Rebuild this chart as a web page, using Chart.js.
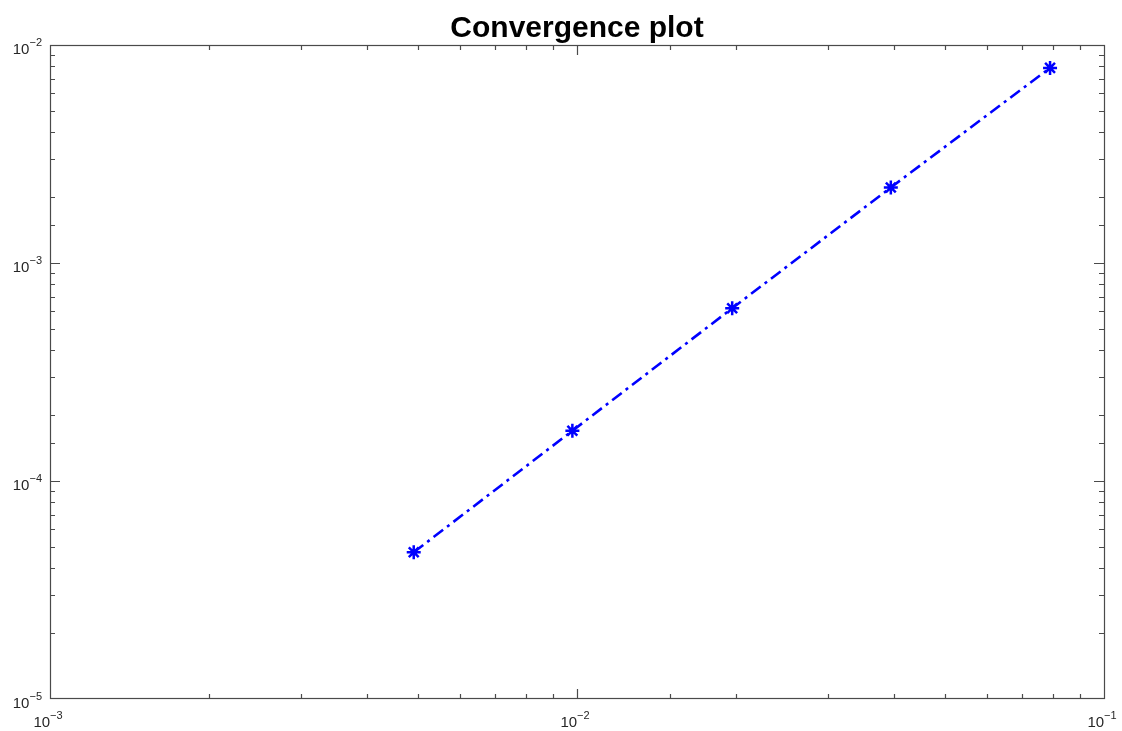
<!DOCTYPE html>
<html>
<head>
<meta charset="utf-8">
<script src="https://cdn.jsdelivr.net/npm/chart.js@4"></script>
<style>
  html, body { margin: 0; padding: 0; background: #ffffff; }
  #wrap { width: 1122px; height: 731px; }
</style>
</head>
<body>
<div id="wrap"><canvas id="c" width="1122" height="731"></canvas></div>
<script>
// ---- data ----
const stepSizes = [0.0049, 0.0098, 0.0197, 0.0394, 0.079];
const errors    = [4.71e-5, 1.70e-4, 6.20e-4, 2.22e-3, 7.85e-3];
const xRange    = [1e-3, 1e-1];
const yRange    = [1e-5, 1e-2];
const titleText = 'Convergence plot';

function isDecade(v) {
  const l = Math.log10(v);
  return Math.abs(l - Math.round(l)) < 1e-9;
}
function exponentText(v) {
  return String(Math.round(Math.log10(v))).replace('-', '\u2212');
}

const AXIS_COLOR = '#4a4a4a';
const TEXT_COLOR = '#262626';
const FONT_FAMILY = '"Liberation Sans", Arial, Helvetica, sans-serif';
const BASE_FONT = '15px ' + FONT_FAMILY;
const EXP_FONT = '11px ' + FONT_FAMILY;

function drawPowerLabel(ctx, base, exp, xLeft, baseY, expY) {
  ctx.font = BASE_FONT;
  ctx.fillText(base, xLeft, baseY);
  const w = ctx.measureText(base).width;
  ctx.font = EXP_FONT;
  ctx.fillText(exp, xLeft + w, expY);
}
function powerLabelWidth(ctx, base, exp) {
  ctx.font = BASE_FONT;
  const w1 = ctx.measureText(base).width;
  ctx.font = EXP_FONT;
  return w1 + ctx.measureText(exp).width;
}

const boxTicks = {
  id: 'boxTicks',
  beforeDatasetsDraw(chart) {
    const { ctx, chartArea: a, scales: { x, y } } = chart;
    ctx.save();
    ctx.strokeStyle = AXIS_COLOR;
    ctx.lineWidth = 1.2;
    ctx.beginPath();
    for (const t of x.ticks) {
      const px = Math.round(x.getPixelForValue(t.value)) + 0.5;
      if (px < a.left + 1 || px > a.right - 1) continue;
      const len = isDecade(t.value) ? 10 : 5;
      ctx.moveTo(px, a.bottom); ctx.lineTo(px, a.bottom - len);
      ctx.moveTo(px, a.top); ctx.lineTo(px, a.top + len);
    }
    for (const t of y.ticks) {
      const py = Math.round(y.getPixelForValue(t.value)) + 0.5;
      if (py < a.top + 1 || py > a.bottom - 1) continue;
      const len = isDecade(t.value) ? 10 : 5;
      ctx.moveTo(a.left, py); ctx.lineTo(a.left + len, py);
      ctx.moveTo(a.right, py); ctx.lineTo(a.right - len, py);
    }
    ctx.stroke();
    ctx.strokeRect(Math.round(a.left) + 0.5, Math.round(a.top) + 0.5,
                   Math.round(a.right - a.left), Math.round(a.bottom - a.top) - 1);
    ctx.restore();
  },
  afterDraw(chart) {
    const { ctx, chartArea: a, scales: { x, y } } = chart;
    ctx.save();
    ctx.fillStyle = TEXT_COLOR;
    ctx.textAlign = 'left';
    ctx.textBaseline = 'alphabetic';
    for (const t of x.ticks) {
      if (!isDecade(t.value)) continue;
      const px = x.getPixelForValue(t.value);
      const e = exponentText(t.value);
      const w = powerLabelWidth(ctx, '10', e);
      drawPowerLabel(ctx, '10', e, px - w / 2 - 2, a.bottom + 28, a.bottom + 20);
    }
    for (const t of y.ticks) {
      if (!isDecade(t.value)) continue;
      const py = y.getPixelForValue(t.value);
      const e = exponentText(t.value);
      const w = powerLabelWidth(ctx, '10', e);
      drawPowerLabel(ctx, '10', e, a.left - 8 - w, py + 9, py + 1);
    }
    ctx.restore();
  }
};

new Chart(document.getElementById('c'), {
  type: 'line',
  data: {
    datasets: [{
      data: stepSizes.map((h, i) => ({ x: h, y: errors[i] })),
      borderColor: '#0000ff',
      backgroundColor: '#0000ff',
      borderWidth: 2.6,
      borderDash: [12, 5, 3, 5],
      tension: 0,
      fill: false,
      pointStyle: 'star',
      pointRadius: 7,
      pointBorderWidth: 2.5,
      pointBorderColor: '#0000ff',
      pointBackgroundColor: '#0000ff',
      clip: false
    }]
  },
  options: {
    responsive: false,
    animation: false,
    devicePixelRatio: 1,
    layout: { padding: { left: 0, right: 18, top: 0, bottom: 0 } },
    plugins: {
      legend: { display: false },
      tooltip: { enabled: false },
      title: {
        display: true,
        fullSize: false,
        text: titleText,
        color: '#000000',
        font: { family: FONT_FAMILY, size: 30, weight: 'bold', lineHeight: 1.1 },
        padding: { top: 12, bottom: 0 }
      }
    },
    scales: {
      x: {
        type: 'logarithmic',
        min: xRange[0], max: xRange[1],
        grid: { display: false },
        border: { display: false },
        ticks: { display: false, autoSkip: false },
        afterFit: (s) => { s.height = 32; s.paddingLeft = 0; s.paddingRight = 0; }
      },
      y: {
        type: 'logarithmic',
        min: yRange[0], max: yRange[1],
        grid: { display: false },
        border: { display: false },
        ticks: { display: false, autoSkip: false },
        afterFit: (s) => { s.width = 50; s.paddingTop = 0; s.paddingBottom = 0; }
      }
    }
  },
  plugins: [boxTicks]
});
</script>
</body>
</html>
